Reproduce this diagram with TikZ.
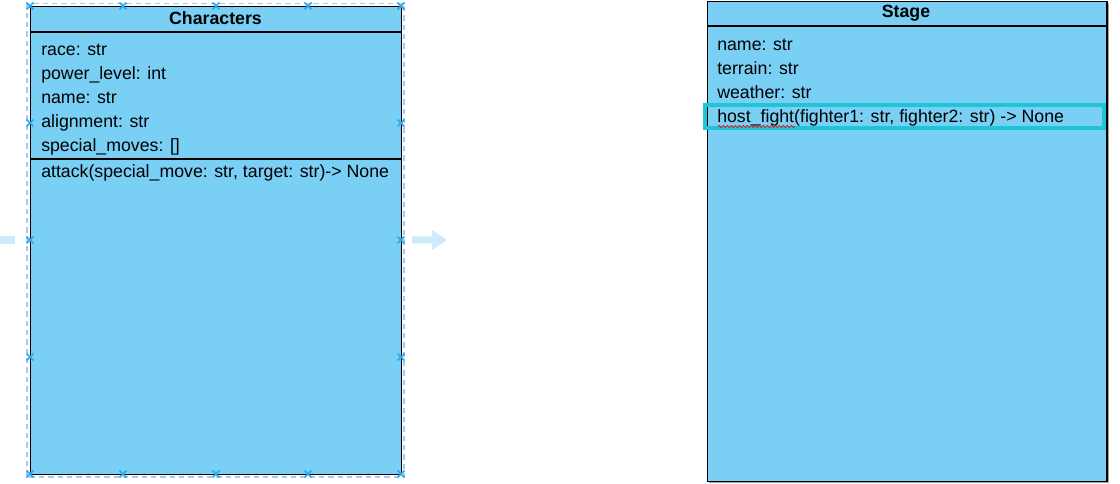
\documentclass[tikz,border=0pt]{standalone}
\usepackage{fontspec}
\setmainfont{Liberation Sans}
\usetikzlibrary{decorations.pathmorphing}
\definecolor{boxfill}{HTML}{7ACFF4}
\definecolor{handle}{HTML}{29A8EE}
\definecolor{selbord}{HTML}{A8C8EE}
\definecolor{hoverarrow}{HTML}{CDEBF9}
\definecolor{hilite}{HTML}{1FC4D6}
\tikzset{
  umlbox/.style={draw=black, line width=1pt, fill=boxfill},
  sepline/.style={draw=black, line width=1pt},
  field/.style={anchor=base west, inner sep=0pt, font=\fontsize{13.3}{15}\selectfont},
  title/.style={anchor=base, inner sep=0pt, font=\fontsize{13.3}{15}\selectfont\bfseries},
  handlemark/.style={draw=handle, line width=1.1pt},
}
\newcommand{\hmark}[2]{\draw[handlemark] (#1-3.5,#2-3.5) -- (#1+3.5,#2+3.5) (#1-3.5,#2+3.5) -- (#1+3.5,#2-3.5);}
\begin{document}
\begin{tikzpicture}[x=0.75pt,y=-0.75pt]
\useasboundingbox (0,0) rectangle (1120,484);
% hover arrows
\fill[hoverarrow] (0,236) rectangle (15,244);
\fill[hoverarrow] (412,236.5) -- (432,236.5) -- (432,230) -- (447,240) -- (432,250) -- (432,243.5) -- (412,243.5) -- cycle;
% Characters class
\node[umlbox, minimum width=371*0.75pt, minimum height=468*0.75pt, inner sep=0pt, anchor=north west] (chars) at (30,6) {};
\draw[sepline] (30,32) -- (401,32);
\draw[sepline] (30,159) -- (401,159);
\node[title] (charsT) at (215.5,24.5) {Characters};
\node[field] (c1) at (41,56) {race: str};
\node[field] (c2) at (41,80) {power\_level: int};
\node[field] (c3) at (41,104) {name: str};
\node[field] (c4) at (41,128) {alignment: str};
\node[field] (c5) at (41,152) {special\_moves: []};
\node[field] (c6) at (41,178) {attack(special\_move: str, target: str)-> None};
% selection
\draw[selbord, dash pattern=on 4pt off 3pt, line width=1pt] (27,3.5) rectangle (404,477);
\foreach \xx in {30,123,216,308,401} {\hmark{\xx}{6}\hmark{\xx}{474}}
\foreach \yy in {123,240,357} {\hmark{30}{\yy}\hmark{401}{\yy}}
% Stage class
\fill[gray!70] (709,3) rectangle (1108.5,483);
\node[umlbox, minimum width=399.5*0.75pt, minimum height=480*0.75pt, inner sep=0pt, anchor=north west] (stage) at (706.7,1) {};
\draw[sepline] (706.7,26) -- (1106.2,26);
\node[title] (stageT) at (906,18) {Stage};
\node[field] (s1) at (717,50.5) {name: str};
\node[field] (s2) at (717,74.5) {terrain: str};
\node[field] (s3) at (717,98.5) {weather: str};
\node[field] (s4) at (717,123) {host\_fight(fighter1: str, fighter2: str) -> None};
\draw[hilite, line width=3pt] (705,105.5) rectangle (1104,128);
\draw[red, line width=0.5pt, decorate, decoration={snake, amplitude=0.8pt, segment length=3pt}] (718,126.5) -- (795,126.5);
\end{tikzpicture}
\end{document}
